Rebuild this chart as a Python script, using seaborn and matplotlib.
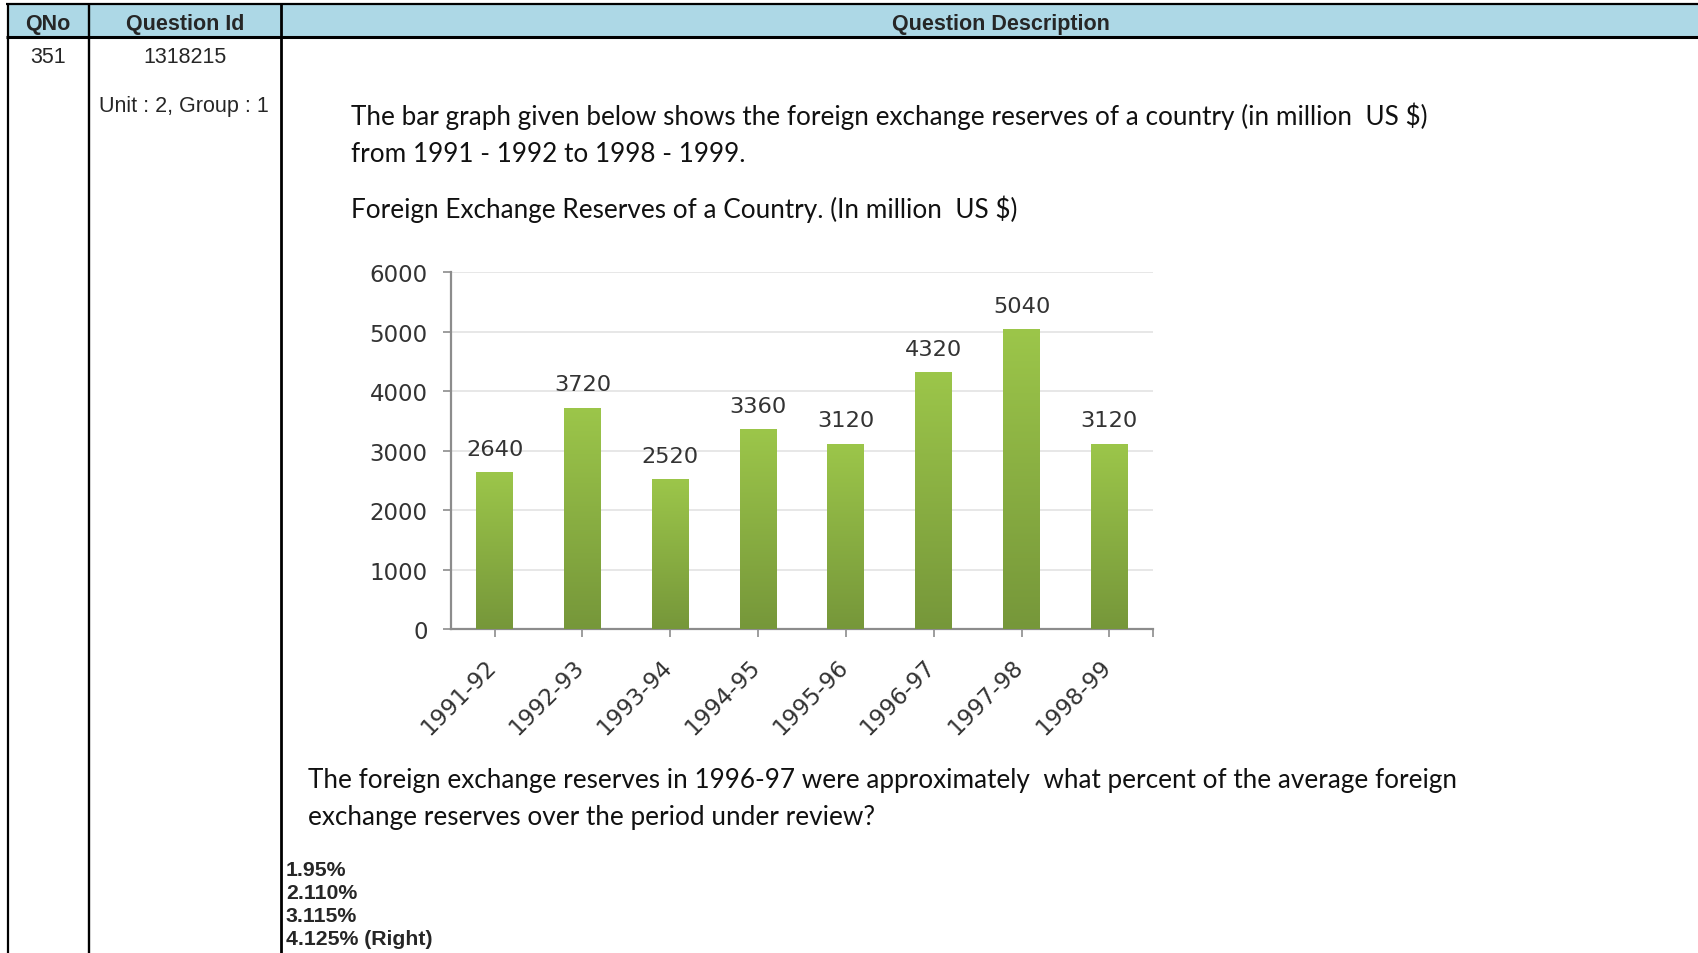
import numpy as np
import pandas as pd
import matplotlib
matplotlib.use("Agg")
import matplotlib.pyplot as plt
import matplotlib.transforms as mtransforms
from matplotlib.lines import Line2D
from matplotlib.patches import Rectangle
from matplotlib.colors import LinearSegmentedColormap
import seaborn as sns

# ---------------- data ----------------
years = ["1991-92", "1992-93", "1993-94", "1994-95", "1995-96", "1996-97", "1997-98", "1998-99"]
reserves = [2640, 3720, 2520, 3360, 3120, 4320, 5040, 3120]
y_ticks = [0, 1000, 2000, 3000, 4000, 5000, 6000]

header_cols = ["QNo", "Question Id", "Question Description"]
qno = "351"
qid = "1318215"
unit_group = "Unit : 2, Group : 1"
desc_lines = ["The bar graph given below shows the foreign exchange reserves of a country (in million  US $)",
              "from 1991 - 1992 to 1998 - 1999."]
chart_title = "Foreign Exchange Reserves of a Country. (In million  US $)"
question_lines = ["The foreign exchange reserves in 1996-97 were approximately  what percent of the average foreign",
                  "exchange reserves over the period under review?"]
options = ["1.95%", "2.110%", "3.115%", "4.125% (Right)"]

# ---------------- figure ----------------
sns.set_style("white")
plt.rcParams["font.family"] = ["DejaVu Sans"]
W, H = 1698, 954
fig = plt.figure(figsize=(W / 100, H / 100), dpi=100)
fig.patch.set_facecolor("white")


def fx(x):
    return x / W


def fy(y):
    return 1 - y / H


def hline(x0, x1, y, lw):
    fig.add_artist(Line2D([fx(x0), fx(x1)], [fy(y), fy(y)], transform=fig.transFigure,
                          color="black", lw=lw, solid_capstyle="butt"))


def vline(x, y0, y1, lw):
    fig.add_artist(Line2D([fx(x), fx(x)], [fy(y0), fy(y1)], transform=fig.transFigure,
                          color="black", lw=lw, solid_capstyle="butt"))


# header background
fig.add_artist(Rectangle((fx(7), fy(37)), fx(W) - fx(7), fy(5) - fy(37),
                         transform=fig.transFigure, facecolor="#ADD8E6", edgecolor="none", zorder=0))
hline(6, W, 5, 1.6)
hline(6, W, 37.5, 2.2)
vline(7.5, 4, H, 1.6)
vline(89, 4, H, 1.7)
vline(281, 4, H, 2.0)

arial = ["Liberation Sans", "DejaVu Sans"]
fig.text(fx(48), fy(30), header_cols[0], ha="center", va="baseline", fontsize=15.5,
         fontweight="bold", family=arial)
fig.text(fx(185), fy(30), header_cols[1], ha="center", va="baseline", fontsize=15.5,
         fontweight="bold", family=arial)
fig.text(fx(1001), fy(30), header_cols[2], ha="center", va="baseline", fontsize=15.5,
         fontweight="bold", family=arial)

fig.text(fx(48), fy(63.3), qno, ha="center", va="baseline", fontsize=15.5, family=arial)
fig.text(fx(185), fy(63.3), qid, ha="center", va="baseline", fontsize=15.5, family=arial)
fig.text(fx(184), fy(111.7), unit_group, ha="center", va="baseline", fontsize=15.5, family=arial)

for i, opt in enumerate(options):
    fig.text(fx(286), fy(876 + 23 * i), opt, ha="left", va="baseline", fontsize=15.3,
             fontweight="bold", family=arial)

# description text, fitted to the reference widths
renderer = fig.canvas.get_renderer()
calibri_like = ["Lato", "DejaVu Sans"]


def fit_text(x, y, s, target_w, size=16):
    t = fig.text(fx(x), fy(y), s, ha="left", va="baseline", fontsize=size,
                 family=calibri_like, color="#111111")
    w = t.get_window_extent(renderer).width
    t.set_fontsize(size * target_w / w)
    return t


t1 = fit_text(351, 125, desc_lines[0], 1081)
fs = t1.get_fontsize()
fig.text(fx(351), fy(161.5), desc_lines[1], ha="left", va="baseline", fontsize=fs,
         family=calibri_like, color="#111111")
fig.text(fx(351), fy(218), chart_title, ha="left", va="baseline", fontsize=fs,
         family=calibri_like, color="#111111")
fig.text(fx(308), fy(788.3), question_lines[0], ha="left", va="baseline", fontsize=fs,
         family=calibri_like, color="#111111")
fig.text(fx(308), fy(825), question_lines[1], ha="left", va="baseline", fontsize=fs,
         family=calibri_like, color="#111111")

# ---------------- chart ----------------
ax_l, ax_r, ax_t, ax_b = 450.7, 1153.3, 273.3, 630.0
ax = fig.add_axes([fx(ax_l), fy(ax_b), fx(ax_r) - fx(ax_l), fy(ax_t) - fy(ax_b)])
df = pd.DataFrame({"year": years, "reserves": reserves})
sns.barplot(data=df, x="year", y="reserves", ax=ax, color="#8cb443", width=0.42,
            saturation=1, edgecolor="none", zorder=3)

ax.set_xlim(-0.5, len(years) - 0.5)
ax.set_ylim(0, 6000)
ax.set_yticks(y_ticks)
ax.set_yticklabels([str(v) for v in y_ticks])
ax.set_xlabel("")
ax.set_ylabel("")
ax.set_facecolor("white")

# gradient fill for bars
cmap = LinearSegmentedColormap.from_list("g", ["#76973a", "#9cc64a"])
grad = np.linspace(0, 1, 256).reshape(-1, 1)
for p in ax.patches:
    x0, w, h = p.get_x(), p.get_width(), p.get_height()
    im = ax.imshow(grad, extent=[x0, x0 + w, 0, h], origin="lower", aspect="auto",
                   cmap=cmap, zorder=3.5, interpolation="bilinear")
    im.set_clip_path(p)
ax.set_xlim(-0.5, len(years) - 0.5)
ax.set_ylim(0, 6000)
ax.set_aspect("auto")

ax.yaxis.grid(True, color="#e3e3e3", lw=1.2, zorder=0)
ax.xaxis.grid(False)
for s in ["top", "right"]:
    ax.spines[s].set_visible(False)
for s in ["left", "bottom"]:
    ax.spines[s].set_color("#8c8c8c")
    ax.spines[s].set_linewidth(1.6)

ax.tick_params(axis="y", which="both", direction="out", length=5.5, width=1.2, color="#8c8c8c",
               pad=11, labelsize=16.5, labelcolor="#333333", left=True)
ax.tick_params(axis="x", which="both", direction="out", length=5.5, width=1.2, color="#8c8c8c",
               pad=13, labelsize=16.5, labelcolor="#333333", bottom=True)
ax.set_xticks([len(years) - 0.5], minor=True)

offset = mtransforms.ScaledTranslation(6.5 / 100, 0, fig.dpi_scale_trans)
for lab in ax.get_xticklabels():
    lab.set_rotation(45)
    lab.set_ha("right")
    lab.set_va("top")
    lab.set_transform(lab.get_transform() + offset)

for i, v in enumerate(reserves):
    ax.annotate(str(v), (i, v), xytext=(0, 12.5), textcoords="offset points",
                ha="center", va="baseline", fontsize=16.2, color="#333333", zorder=5)

fig.savefig("out.png", dpi=100, facecolor="white")
